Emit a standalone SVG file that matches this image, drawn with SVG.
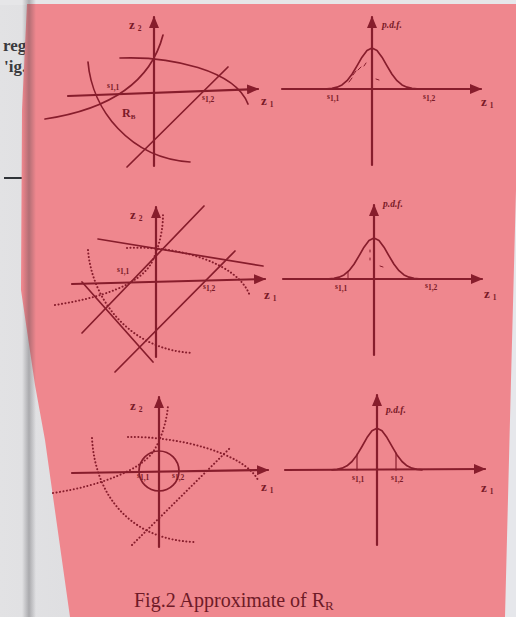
<svg xmlns="http://www.w3.org/2000/svg" width="516" height="617" viewBox="0 0 516 617">
<defs>
<style>
.ink{stroke:#871d2c;fill:none;stroke-linecap:round;stroke-linejoin:round}
.ax{stroke-width:2.2}
.cv{stroke-width:1.7}
.dot{stroke-width:2;stroke-dasharray:0.1 3.4}
.lbl{font-family:"Liberation Serif",serif;font-weight:bold;fill:#7a1a28}
.z{font-size:13px}
.sub{font-size:7.5px}
.s{font-size:7.5px}
.pdf{font-size:9.5px;font-style:italic}
.cap{font-family:"Liberation Serif",serif;font-size:20px;fill:#6e1a27}
.page{font-family:"Liberation Serif",serif;font-size:17px;fill:#3a3a3e;font-weight:bold}
</style>
<marker id="ah" viewBox="0 0 12 10" refX="11" refY="5" markerWidth="12" markerHeight="10" markerUnits="userSpaceOnUse" orient="auto">
<path d="M0,0 L12,5 L0,10 z" fill="#871d2c"/>
</marker>
<linearGradient id="pg" x1="0" x2="1" y1="0" y2="0">
<stop offset="0" stop-color="#e2e2e4"/>
<stop offset="0.6" stop-color="#d4d4d8"/>
<stop offset="1" stop-color="#c8c8cc"/>
</linearGradient>
<linearGradient id="spine" x1="0" x2="1" y1="0" y2="0">
<stop offset="0" stop-color="#3a3a40" stop-opacity="0"/>
<stop offset="0.5" stop-color="#3a3a40" stop-opacity="0.55"/>
<stop offset="1" stop-color="#3a3a40" stop-opacity="0"/>
</linearGradient>
<polyline id="gauss" points="-45,-0.2 -40,-0.7 -35,-1.8 -30,-4.1 -25,-8.3 -20,-14.8 -15,-23.1 -10,-31.8 -5,-38.5 0,-41 5,-38.5 10,-31.8 15,-23.1 20,-14.8 25,-8.3 30,-4.1 35,-1.8 40,-0.7 45,-0.2"/>
</defs>

<!-- photographed page background -->
<rect x="0" y="0" width="516" height="617" fill="url(#pg)"/>
<rect x="0" y="0" width="516" height="5" fill="#e6e6e8"/>
<rect x="500" y="0" width="16" height="617" fill="#e6e7eb"/>
<text class="page" x="3" y="51">reg</text>
<text class="page" x="4" y="72">'ig.</text>
<line x1="4" y1="178" x2="27" y2="178" stroke="#2f3338" stroke-width="2"/>

<!-- red sheet -->
<polygon points="27,4 516,4 516,190 511,380 505,617 70,617 45,440 35,385 21,290 22,110" fill="#ef878e"/>
<rect x="22" y="0" width="14" height="617" fill="url(#spine)" opacity="0.6"/>

<!-- panel 1: region R_B -->
<g id="panel1">
<g id="p1-axes">
<line class="ink ax" x1="154" y1="166" x2="154" y2="17" marker-end="url(#ah)"/>
<line class="ink ax" x1="68" y1="96" x2="258" y2="89" marker-end="url(#ah)"/>
</g>
<g id="p1-curves">
<path class="ink cv" d="M45,119 Q145,104 163,35"/>
<path class="ink cv" d="M120,58 C170,56 235,70 248,104"/>
<path class="ink cv" d="M88,62 C92,110 130,158 190,162"/>
<line class="ink cv" x1="127" y1="167" x2="228" y2="67"/>
</g>
<text class="lbl z" x="129" y="29">z<tspan class="sub" dx="3" dy="2">2</tspan></text>
<text class="lbl z" x="261" y="105">z<tspan class="sub" dx="3" dy="2">1</tspan></text>
<text class="lbl s" x="107" y="88">s<tspan dy="2">1,1</tspan></text>
<text class="lbl s" x="202" y="100">s<tspan dy="2">1,2</tspan></text>
<text class="lbl" x="122" y="117" font-size="12">R<tspan font-size="7" dy="2">B</tspan></text>
</g>

<!-- panel 2: pdf -->
<g id="panel2">
<line class="ink ax" x1="372" y1="165" x2="372" y2="17" marker-end="url(#ah)"/>
<line class="ink ax" x1="282" y1="89" x2="481" y2="89" marker-end="url(#ah)"/>
<use href="#gauss" class="ink cv" transform="translate(372,89)"/>
<path class="ink" stroke-width="1" d="M349,82 l3,-4 M353,75 l3,-4 M358,70 l3,-3 M364,66 l2,-3 M376,79 l3,1"/>
<text class="lbl pdf" x="382" y="28">p.d.f.</text>
<text class="lbl s" x="327" y="99">s<tspan dy="2">1,1</tspan></text>
<text class="lbl s" x="423" y="99">s<tspan dy="2">1,2</tspan></text>
<text class="lbl z" x="481" y="106">z<tspan class="sub" dx="3" dy="2">1</tspan></text>
</g>

<!-- panel 3: linear approximation -->
<g id="panel3">
<g id="p3-axes">
<line class="ink ax" x1="156" y1="357" x2="156" y2="207" marker-end="url(#ah)"/>
<line class="ink ax" x1="72" y1="284" x2="265" y2="279" marker-end="url(#ah)"/>
</g>
<g id="p3-lines">
<line class="ink cv" x1="98" y1="239" x2="263" y2="266"/>
<line class="ink cv" x1="82" y1="333" x2="204" y2="206"/>
<line class="ink cv" x1="115" y1="372" x2="235" y2="251"/>
<line class="ink cv" x1="82" y1="282" x2="153" y2="362"/>
</g>
<g id="p3-dotted">
<path class="ink dot" d="M55,305 C100,298 140,285 152,262 C160,245 163,228 163,215"/>
<path class="ink dot" d="M127,248 C175,245 238,262 250,296"/>
<path class="ink dot" d="M88,250 C92,300 130,350 193,353"/>
</g>
<text class="lbl z" x="130" y="219">z<tspan class="sub" dx="3" dy="2">2</tspan></text>
<text class="lbl s" x="117" y="272">s<tspan dy="2">1,1</tspan></text>
<text class="lbl s" x="203" y="289">s<tspan dy="2">1,2</tspan></text>
<text class="lbl z" x="264" y="299">z<tspan class="sub" dx="3" dy="2">1</tspan></text>
</g>

<!-- panel 4: pdf -->
<g id="panel4">
<line class="ink ax" x1="374" y1="355" x2="374" y2="205" marker-end="url(#ah)"/>
<line class="ink ax" x1="283" y1="279" x2="482" y2="279" marker-end="url(#ah)"/>
<use href="#gauss" class="ink cv" transform="translate(374,279)"/>
<path class="ink" stroke-width="1" d="M348,272 v6 M380,266 l3,1 M370,250 v2 M370,258 v2"/>
<text class="lbl pdf" x="383" y="207">p.d.f.</text>
<text class="lbl s" x="335" y="289">s<tspan dy="2">1,1</tspan></text>
<text class="lbl s" x="425" y="288">s<tspan dy="2">1,2</tspan></text>
<text class="lbl z" x="484" y="298">z<tspan class="sub" dx="3" dy="2">1</tspan></text>
</g>

<!-- panel 5: circle approximation -->
<g id="panel5">
<g id="p5-axes">
<line class="ink ax" x1="159" y1="547" x2="159" y2="397" marker-end="url(#ah)"/>
<line class="ink ax" x1="72" y1="473" x2="268" y2="470" marker-end="url(#ah)"/>
</g>
<circle class="ink cv" cx="159" cy="471" r="20"/>
<g id="p5-dotted">
<path class="ink dot" d="M53,493 C100,486 140,470 153,452 C162,438 167,420 168,405"/>
<path class="ink dot" d="M128,437 C175,436 243,452 258,480"/>
<path class="ink dot" d="M92,438 C95,495 130,540 195,542"/>
<line class="ink dot" x1="132" y1="545" x2="230" y2="448"/>
</g>
<text class="lbl z" x="130" y="410">z<tspan class="sub" dx="3" dy="2">2</tspan></text>
<text class="lbl s" x="137" y="478">s<tspan dy="2">1,1</tspan></text>
<text class="lbl s" x="172" y="478">s<tspan dy="2">1,2</tspan></text>
<text class="lbl z" x="261" y="491">z<tspan class="sub" dx="3" dy="2">1</tspan></text>
</g>

<!-- panel 6: pdf -->
<g id="panel6">
<line class="ink ax" x1="377" y1="545" x2="377" y2="395" marker-end="url(#ah)"/>
<line class="ink ax" x1="285" y1="470" x2="485" y2="469" marker-end="url(#ah)"/>
<use href="#gauss" class="ink cv" transform="translate(377,470) scale(1,1.02)"/>
<line class="ink" stroke-width="1.2" x1="357" y1="454" x2="357" y2="470"/>
<line class="ink" stroke-width="1.2" x1="396" y1="453" x2="396" y2="470"/>
<text class="lbl pdf" x="386" y="413">p.d.f.</text>
<text class="lbl s" x="352" y="480">s<tspan dy="2">1,1</tspan></text>
<text class="lbl s" x="391" y="480">s<tspan dy="2">1,2</tspan></text>
<text class="lbl z" x="481" y="492">z<tspan class="sub" dx="3" dy="2">1</tspan></text>
</g>

<text class="cap" x="134" y="607">Fig.2 Approximate of  R<tspan font-size="13" dy="3">R</tspan></text>
</svg>
